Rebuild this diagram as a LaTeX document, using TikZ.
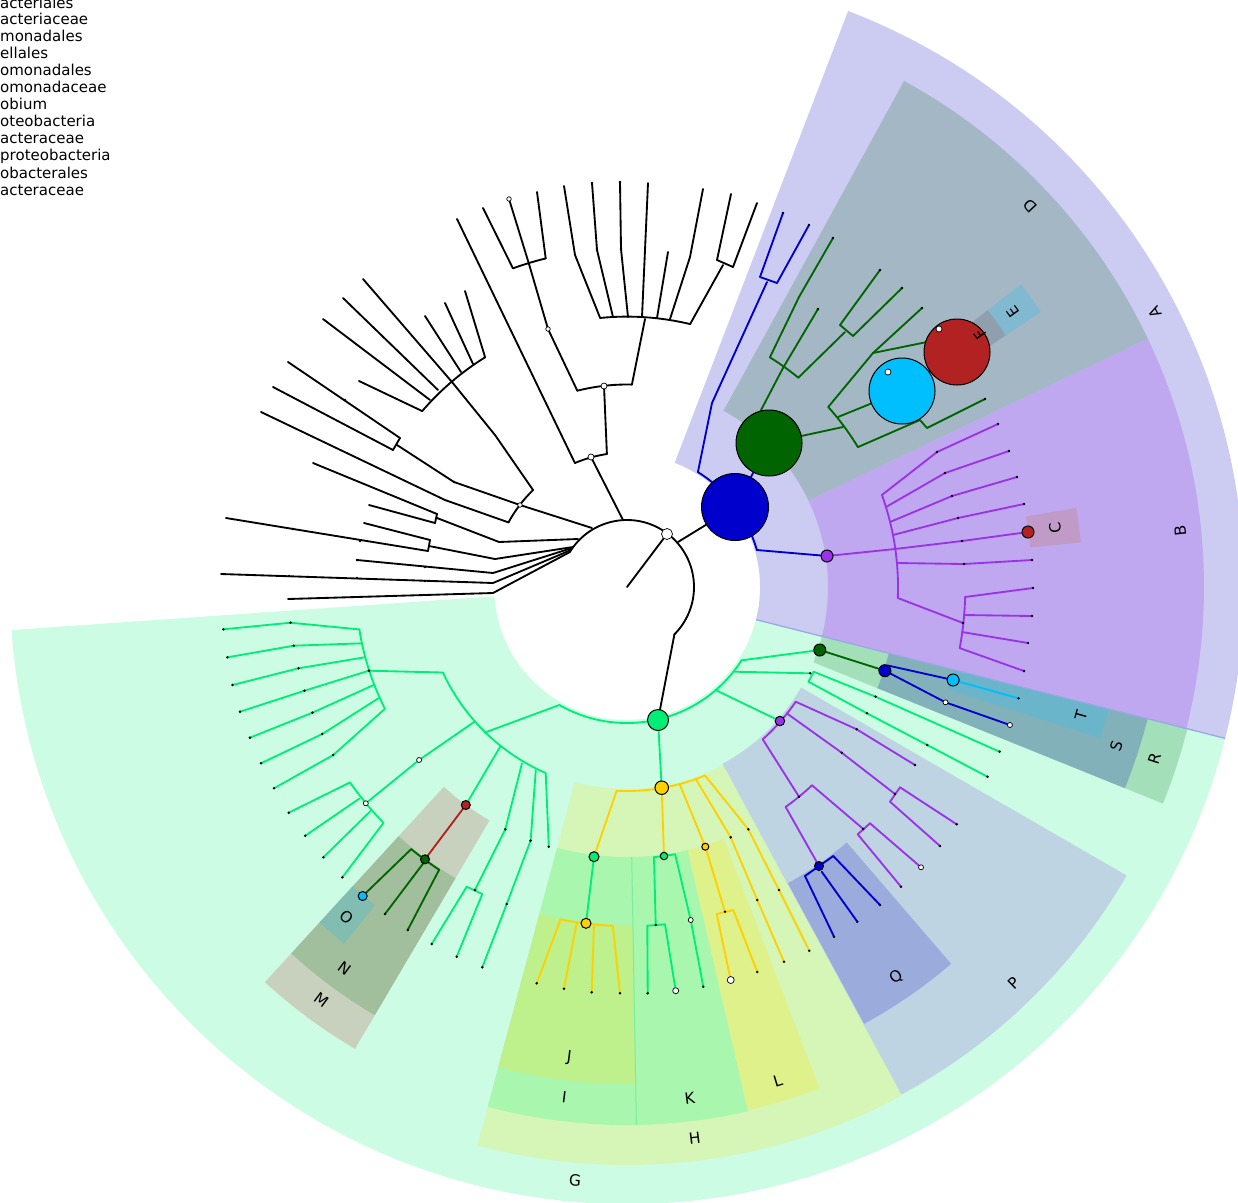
\documentclass[tikz,border=0pt]{standalone}
\usepackage{fontspec}
\setmainfont{DejaVu Sans}
\pgfdeclarelayer{sect}\pgfdeclarelayer{tree}
\pgfsetlayers{sect,tree,main}
\definecolor{cA}{HTML}{CCCCF2}\definecolor{cB}{HTML}{BFA8F0}\definecolor{cC}{HTML}{C09BC8}
\definecolor{cD}{HTML}{A3B7C5}\definecolor{cE}{HTML}{81B9D1}\definecolor{cF}{HTML}{909FAE}
\definecolor{cG}{HTML}{CCFCE4}\definecolor{cH}{HTML}{D5F6B6}\definecolor{cI}{HTML}{A9F6AE}
\definecolor{cJ}{HTML}{BEF08B}\definecolor{cK}{HTML}{A9F6AE}\definecolor{cL}{HTML}{DEF18B}
\definecolor{cM}{HTML}{C8D1BE}\definecolor{cN}{HTML}{A1BF9C}\definecolor{cO}{HTML}{81BDB1}
\definecolor{cP}{HTML}{BFD4E2}\definecolor{cQ}{HTML}{9AABDC}\definecolor{cR}{HTML}{A3E0B9}
\definecolor{cS}{HTML}{82B1BA}\definecolor{cT}{HTML}{6AB5C9}
\definecolor{AEdge}{HTML}{9AA9E4}\definecolor{IKedge}{HTML}{7EEC9E}
\definecolor{tBlue}{HTML}{0000CD}\definecolor{tDG}{HTML}{006400}\definecolor{tPur}{HTML}{9A32E8}
\definecolor{tCy}{HTML}{00BFFF}\definecolor{tRed}{HTML}{B22222}\definecolor{tSG}{HTML}{00EE76}
\definecolor{tGold}{HTML}{FFD000}
\newcommand\mysector[5]{\fill[#1] (#2:#4pt) arc[start angle=#2,end angle=#3,radius=#4pt] -- (#3:#5pt) arc[start angle=#3,end angle=#2,radius=#5pt] -- cycle;}
\tikzset{
 lnk/.style={line width=1.85pt, line cap=round, line join=round},
 kb/.style={lnk,black}, kbl/.style={lnk,tBlue}, kdg/.style={lnk,tDG}, kpu/.style={lnk,tPur},
 kcy/.style={lnk,tCy}, krd/.style={lnk,tRed}, ksg/.style={lnk,tSG}, kgd/.style={lnk,tGold},
 cn/.style={circle, draw=black, line width=1pt, inner sep=0pt, outer sep=0pt},
 wn/.style={cn, fill=white, line width=0.7pt},
 lab/.style={font=\fontsize{15.5}{15.5}\selectfont, inner sep=0pt},
 leg/.style={font=\fontsize{15}{15}\selectfont, inner sep=0pt, anchor=base west},
}
\begin{document}
\begin{tikzpicture}[x=1pt,y=-1pt]
\path[use as bounding box] (0,0) rectangle (1238,1202);

% ---------- shaded sectors ----------
\begin{pgfonlayer}{sect}
\begin{scope}[shift={(627,587)}]
\mysector{cA}{-14.2}{69}{133}{617}
\mysector{cG}{184}{345.8}{133}{617}
\mysector{cB}{-14.2}{25.5}{201}{577}
\mysector{cD}{25.5}{61.3}{201}{577}
\mysector{cH}{255}{298.4}{202}{578}
\mysector{cP}{298.4}{330}{201}{577}
\mysector{cR}{-22}{-14.2}{201}{578}
\mysector{cI}{255}{271}{270}{538}
\mysector{cK}{271}{283}{270}{538}
\mysector{cL}{283}{291}{270}{537}
\mysector{cM}{227.5}{239.5}{271}{536}
\mysector{cS}{-22}{-14.2}{270}{537}
\mysector{cJ}{255}{271}{338}{497}
\mysector{cN}{227.5}{239.5}{338}{497}
\mysector{cQ}{298.5}{310.7}{337}{497}
\mysector{cT}{-17.7}{-14.2}{337}{497}
\mysector{cO}{227.5}{231.6}{406}{455}
\mysector{cC}{5.6}{10}{405}{456}
\mysector{cF}{33.6}{37.5}{414}{455}
\mysector{cE}{33.6}{37.5}{455}{497}
\draw[line width=1.3pt, AEdge] (-14.2:133pt) -- (-14.2:617pt);
\draw[line width=1pt, IKedge] (271:270pt) -- (271:538pt);
\end{scope}
\end{pgfonlayer}

% ---------- coordinates ----------
\coordinate (root) at (627,587);
\path (578,539) coordinate (ka1) (573,547) coordinate (ka2) (572,548) coordinate (ka3)
 (571,550) coordinate (ka4) (570,552) coordinate (ka5) (592,528) coordinate (ka6)
 (623,520) coordinate (ka7) (678,542) coordinate (ka8) (674.4,634.4) coordinate (kaE);
% black
\path (499,542) coordinate (p1) (437,518) coordinate (q1) (437,514) coordinate (q1a) (435,523) coordinate (q1b)
 (313,463) coordinate (l1a) (369,505) coordinate (l1b)
 (495,559) coordinate (p2) (429,546) coordinate (q2) (430,540) coordinate (q2a) (428,551) coordinate (q2b)
 (364,523) coordinate (l2a) (226,518) coordinate (l2b)
 (493,573) coordinate (p3) (357,560) coordinate (l3)
 (493,583) coordinate (p4) (221,574) coordinate (l4)
 (493,593) coordinate (p5) (288,599) coordinate (l5)
 (508.5,522.4) coordinate (p6a) (533.1,490.1) coordinate (p6b)
 (445,500) coordinate (m1) (261,412) coordinate (l6a)
 (454,482) coordinate (m2) (397,445) coordinate (q3) (393,450) coordinate (q3a) (400,438) coordinate (q3b)
 (288,362) coordinate (l6b) (273,387) coordinate (l6c)
 (495,435) coordinate (m3) (452,382) coordinate (c10) (363,279) coordinate (l6d)
 (422,411) coordinate (c10a) (430,400) coordinate (c10b) (438,390) coordinate (c10c)
 (461,372) coordinate (c10d) (473,364) coordinate (c10e) (485,357) coordinate (c10f)
 (359,381) coordinate (l10a) (323,319) coordinate (l10b) (343,298) coordinate (l10c)
 (425,316) coordinate (l10d) (445,303) coordinate (l10e) (465,291) coordinate (l10f)
 (574.9,463) coordinate (w2a) (606.9,454) coordinate (w2b) (457,219) coordinate (l7)
 (577.3,390.7) coordinate (w1a) (631.9,384.6) coordinate (w1b)
 (529,264) coordinate (c11) (512.9,268.3) coordinate (c11a) (545.7,258.4) coordinate (c11b)
 (483,208) coordinate (l11a) (537,192) coordinate (l11c)
 (645,319) coordinate (c12) (600.1,317.9) coordinate (c12a) (613,317) coordinate (c12b) (628,317) coordinate (c12c)
 (642,317) coordinate (c12d) (657,318) coordinate (c12e) (670,319) coordinate (c12f) (690.1,324.1) coordinate (c12g)
 (575,255) coordinate (m12a) (564,186) coordinate (l12a) (597,250) coordinate (m12b) (592,183) coordinate (l12b)
 (621,249) coordinate (m12c) (620,182) coordinate (l12c) (648,183) coordinate (l12d) (668,252) coordinate (l12e)
 (690,257) coordinate (m12f) (703,189) coordinate (l12f)
 (723,265) coordinate (c13) (717,260) coordinate (c13a) (733,267) coordinate (c13b) (731,194) coordinate (l13a) (757,203) coordinate (l13b);
% blue / dark green
\path (697.9,472.1) coordinate (ba1) (756.8,550) coordinate (ba2) (712,403) coordinate (bm)
 (767,282) coordinate (c20) (760,277) coordinate (c20a) (777,283) coordinate (c20b) (783,213) coordinate (l20a) (809,225) coordinate (l20b)
 (783,368) coordinate (c30) (769.9,357.3) coordinate (c30a) (798.3,377.7) coordinate (c30b)
 (799,297) coordinate (m30) (833,238) coordinate (l30a) (818,309) coordinate (l30b)
 (845,332) coordinate (c31) (840,325) coordinate (c31a) (853,336) coordinate (c31b) (880,270) coordinate (l31a) (902,288) coordinate (l31b)
 (843,427) coordinate (c32) (828.2,407) coordinate (c32a) (838,417) coordinate (c32m) (857.9,447.1) coordinate (c32b)
 (873,353) coordinate (c33) (922,308) coordinate (l33) (927,342) coordinate (m33)
 (920,420) coordinate (c34a) (927,428) coordinate (c34b) (985,399) coordinate (l34);
% purple B
\path (895,549) coordinate (pa5) (881.9,495) coordinate (pa1) (886,507) coordinate (pa2) (890,522) coordinate (pa3)
 (893,535) coordinate (pa4) (897,563) coordinate (pa6) (897.8,598) coordinate (pa7)
 (937,452) coordinate (pm1) (945,473) coordinate (pm2) (952,496) coordinate (pm3) (958,518) coordinate (pm4)
 (962,541) coordinate (pm5) (964,564) coordinate (pm6)
 (998,424) coordinate (pl1) (1009,451) coordinate (pl2) (1017,477) coordinate (pl3) (1024,504) coordinate (pl4) (1032,560) coordinate (pl6)
 (963,623) coordinate (c40) (965.1,597) coordinate (c40a) (964,615) coordinate (c40b) (962,632) coordinate (c40c) (959.7,648.1) coordinate (c40d)
 (1033,588) coordinate (l40a) (1032,616) coordinate (l40b) (1028,643) coordinate (l40c) (1024,671) coordinate (l40d);
% spring green G
\path (559.4,705) coordinate (ga1) (715.5,690) coordinate (ga2) (734.4,671.7) coordinate (ga3) (741.6,660.3) coordinate (ga4)
 (442.9,672.5) coordinate (ca1) (474.5,721.7) coordinate (ca2) (484.4,732.7) coordinate (cax) (500.2,746.7) coordinate (ca3)
 (522,763.3) coordinate (ca4) (535.8,770) coordinate (ca5) (545.7,773) coordinate (ca6)
 (368.9,670.7) coordinate (c51)
 (359.3,629.4) coordinate (c51a) (361.8,643.3) coordinate (c51b) (364.6,657.3) coordinate (c51c) (373.7,685) coordinate (c51e)
 (378.4,698.3) coordinate (c51f) (384.9,708.8) coordinate (c51g)
 (290.6,622.7) coordinate (m51a) (293.8,645.7) coordinate (m51b) (298.5,668.3) coordinate (m51c) (304.5,690.7) coordinate (m51d)
 (312.4,712.7) coordinate (m51e) (322.3,734) coordinate (m51f) (333.3,755) coordinate (m51g)
 (223.4,629.3) coordinate (l51a) (227.4,657.3) coordinate (l51b) (232.5,685) coordinate (l51c) (240,711.7) coordinate (l51d)
 (249.9,737.7) coordinate (l51e) (261,763.3) coordinate (l51f) (274,788.3) coordinate (l51g)
 (350,782.4) coordinate (c52a) (359.8,798.3) coordinate (c52b) (370.9,810.7) coordinate (c52c) (383.5,822.9) coordinate (c52d)
 (288.7,812.7) coordinate (l52a) (305.3,835.7) coordinate (l52b) (323.4,857.3) coordinate (l52c) (342.4,877.3) coordinate (l52d)
 (411.2,849.1) coordinate (dg2a) (423.3,863.3) coordinate (dg2b) (439.1,869.8) coordinate (dg2c) (385,914) coordinate (ldg2b) (407.7,930) coordinate (ldg2c)
 (505.3,829.3) coordinate (m53) (475,890) coordinate (c53) (466.7,886.7) coordinate (c53a) (482.3,894) coordinate (c53b)
 (431.7,944) coordinate (l53a) (456.7,956.7) coordinate (l53b)
 (530.6,840.7) coordinate (m54a) (506.7,904) coordinate (m54b) (482.3,967.3) coordinate (l54) (548.8,846.7) coordinate (l55)
 (810.2,673.3) coordinate (c50) (813.6,671.7) coordinate (c50a) (808.5,681.7) coordinate (c50b)
 (875.6,696.7) coordinate (m50a) (999.6,751.7) coordinate (l50a) (867,713.3) coordinate (m50b) (927.3,745) coordinate (m50c) (987.5,776.7) coordinate (l50b);
% gold / H
\path (616.7,790.7) coordinate (gda) (680,785) coordinate (gdc) (696,779.3) coordinate (gdd) (705.1,775.5) coordinate (gde)
 (730.7,837.3) coordinate (md1) (757.3,900) coordinate (md2) (784,961.7) coordinate (ld)
 (748.3,829.3) coordinate (me1) (779,890) coordinate (me2) (809.3,950.7) coordinate (le)
 (560.6,919.4) coordinate (gd1a) (576.7,922.7) coordinate (gd1b) (594,924) coordinate (gd1c) (612.8,925.7) coordinate (gd1d)
 (536.7,983.3) coordinate (lg1a) (564,988.7) coordinate (lg1b) (591.7,992.3) coordinate (lg1c) (620,993.3) coordinate (lg1d)
 (654,857.2) coordinate (gn2a) (675.1,854.2) coordinate (gn2b)
 (655.7,925) coordinate (c60) (647.3,925.7) coordinate (c60a) (665,924.3) coordinate (c60b) (647.7,993.3) coordinate (l60a) (703.3,986.7) coordinate (l61)
 (725,911.7) coordinate (c61) (716.7,914) coordinate (c61a) (733.3,910) coordinate (c61b) (757.3,972) coordinate (l61b);
% purple P
\path (795.7,701.7) coordinate (pua) (786.7,713.3) coordinate (pub) (762.7,739.3) coordinate (puc)
 (856.7,729.3) coordinate (mpa) (915,765) coordinate (lpa) (841.7,752.7) coordinate (mpb)
 (895,794) coordinate (c70) (890,801.7) coordinate (c70a) (900,787.3) coordinate (c70b) (956.7,824.3) coordinate (l70b) (940,846) coordinate (l70a)
 (799,796.7) coordinate (c71) (785.6,806.9) coordinate (c71a) (812,785.3) coordinate (c71b)
 (863.3,829) coordinate (c72) (857.7,834.3) coordinate (c72a) (870,823.3) coordinate (c72b) (901,886.7) coordinate (l72a)
 (805,876) coordinate (bl2a) (821.7,871.7) coordinate (bl2m) (833.3,856) coordinate (bl2b)
 (834,936.7) coordinate (lb2a) (857.3,921.7) coordinate (lb2m) (880,905) coordinate (lb2b)
 (1018.5,698.3) coordinate (lcy1);

% ---------- circle nodes ----------
\node[wn, minimum size=11pt] (W0) at (667,534) {};
\node[cn, fill=tBlue, minimum size=67pt] (B0) at (735,507) {};
\node[cn, fill=tDG, minimum size=66pt] (G0) at (769,443) {};
\node[cn, fill=tCy, minimum size=66pt] (C1) at (902,391) {};
\node[cn, fill=tRed, minimum size=66pt] (R1) at (957,352) {};
\node[wn, minimum size=6pt] (wc1) at (888,372) {};
\node[wn, minimum size=6pt] (wr1) at (939,329) {};
\node[cn, fill=tPur, minimum size=12pt] (P0) at (827,556) {};
\node[cn, fill=tRed, minimum size=12pt] (R2) at (1028,532) {};
\node[cn, fill=tSG, minimum size=21pt] (GN0) at (658,720) {};
\node[cn, fill=tGold, minimum size=13.5pt] (GD0) at (661.7,787.7) {};
\node[cn, fill=tSG, minimum size=10pt] (GN1) at (594,856.7) {};
\node[cn, fill=tSG, minimum size=7.5pt] (GN2) at (664,856) {};
\node[cn, fill=tGold, minimum size=7pt] (GD2) at (705.3,846.7) {};
\node[cn, fill=tGold, minimum size=10pt] (GD1) at (586,923.3) {};
\node[cn, fill=tPur, minimum size=9.5pt] (PU2) at (779.9,721) {};
\node[cn, fill=tBlue, minimum size=9pt] (BL2) at (819,866) {};
\node[cn, fill=tDG, minimum size=12pt] (DG1) at (819.8,650) {};
\node[cn, fill=tBlue, minimum size=12pt] (BL1) at (884.9,670.7) {};
\node[cn, fill=tCy, minimum size=12pt] (CY1) at (953.1,680) {};
\node[cn, fill=tRed, minimum size=9pt] (R3) at (465.8,805) {};
\node[cn, fill=tDG, minimum size=9pt] (DG2) at (425,859.3) {};
\node[cn, fill=tCy, minimum size=9pt] (CY2) at (362.7,896) {};
\node[wn, minimum size=6pt] (W1) at (604,386) {};
\node[wn, minimum size=6pt] (W2) at (591,457) {};
\node[wn, minimum size=4.5pt] (p6) at (520,505) {};
\node[wn, minimum size=4.5pt] (wd1) at (548,329) {};
\node[wn, minimum size=4.5pt] (w11) at (509,199) {};
\node[wn, minimum size=5pt] (c52) at (365.8,803.3) {};
\node[wn, minimum size=5pt] (wd2) at (419.1,760) {};
\node[wn, minimum size=5pt] (wd3) at (945.5,702.3) {};
\node[wn, minimum size=5pt] (wd4) at (1009.9,725) {};
\node[wn, minimum size=5pt] (wd5) at (921,867.3) {};
\node[wn, minimum size=5pt] (wd6) at (690.7,920) {};
\node[wn, minimum size=6pt] (wd7) at (675.7,990.7) {};
\node[wn, minimum size=7pt] (wd8) at (730.7,980) {};

% ---------- tree ----------
\begin{pgfonlayer}{tree}
\begin{scope}[shift={(627,587)}]
\draw[kb] (148.4:67pt) arc[start angle=148.4,end angle=-45,radius=67pt];
\draw[kb] (151.4:135pt) arc[start angle=151.4,end angle=134.1,radius=135pt];
\draw[kb] (139.4:270pt) arc[start angle=139.4,end angle=121.7,radius=270pt];
\draw[kb] (112.8:134.5pt) arc[start angle=112.8,end angle=98.6,radius=134.5pt];
\draw[kb] (104.2:202.5pt) arc[start angle=104.2,end angle=88.6,radius=202.5pt];
\draw[kb] (109.7:338.5pt) arc[start angle=109.7,end angle=103.9,radius=338.5pt];
\draw[kb] (95.7:270.4pt) arc[start angle=95.7,end angle=76.5,radius=270.4pt];
\draw[kbl] (58.3:135pt) arc[start angle=58.3,end angle=15.9,radius=135pt];
\draw[kdg] (58.1:270.5pt) arc[start angle=58.1,end angle=50.7,radius=270.5pt];
\draw[kdg] (41.8:270pt) arc[start angle=41.8,end angle=31.2,radius=270pt];
\draw[kpu] (19.84:271pt) arc[start angle=19.84,end angle=-2.33,radius=271pt];
\draw[kpu] (-1.7:338.3pt) arc[start angle=-1.7,end angle=-10.4,radius=338.3pt];
\draw[ksg] (240.2:136pt) arc[start angle=240.2,end angle=327.4,radius=136pt];
\draw[ksg] (204.9:203pt) arc[start angle=204.9,end angle=246.4,radius=203pt];
\draw[ksg] (189:271pt) arc[start angle=189,end angle=206.7,radius=271pt];
\draw[ksg] (215.2:339pt) arc[start angle=215.2,end angle=224.1,radius=339pt];
\draw[kdg] (230.6:339.5pt) arc[start angle=230.6,end angle=236.4,radius=339.5pt];
\draw[kgd] (267.1:204pt) arc[start angle=267.1,end angle=292.5,radius=204pt];
\draw[kgd] (258.7:339pt) arc[start angle=258.7,end angle=267.6,radius=339pt];
\draw[ksg] (275.7:271.5pt) arc[start angle=275.7,end angle=280.2,radius=271.5pt];
\draw[kpu] (-48.3:204pt) arc[start angle=-48.3,end angle=-34.2,radius=204pt];
\draw[kpu] (-54.2:271.2pt) arc[start angle=-54.2,end angle=-47,radius=271.2pt];
\end{scope}
% black
\draw[kb] (root) -- (W0);
\draw[kb] (ka1) -- (p1) -- (q1); \draw[kb] (q1a) -- (q1b); \draw[kb] (q1a) -- (l1a); \draw[kb] (q1b) -- (l1b);
\draw[kb] (ka2) -- (p2) -- (q2); \draw[kb] (q2a) -- (q2b); \draw[kb] (q2a) -- (l2a); \draw[kb] (q2b) -- (l2b);
\draw[kb] (ka3) -- (p3) -- (l3);
\draw[kb] (ka4) -- (p4) -- (l4);
\draw[kb] (ka5) -- (p5) -- (l5);
\draw[kb] (ka6) -- (p6);
\draw[kb] (p6a) -- (m1) -- (l6a);
\draw[kb] (p6) -- (m2) -- (q3); \draw[kb] (q3a) -- (q3b); \draw[kb] (q3b) -- (l6b); \draw[kb] (q3a) -- (l6c);
\draw[kb] (p6b) -- (m3) -- (c10) -- (l6d);
\draw[kb] (c10a) -- (l10a); \draw[kb] (c10b) -- (l10b); \draw[kb] (c10c) -- (l10c);
\draw[kb] (c10d) -- (l10d); \draw[kb] (c10e) -- (l10e); \draw[kb] (c10f) -- (l10f);
\draw[kb] (ka7) -- (W2);
\draw[kb] (w2a) -- (l7); \draw[kb] (w2b) -- (W1);
\draw[kb] (w1a) -- (wd1) -- (c11);
\draw[kb] (c11a) -- (l11a); \draw[kb] (c11) -- (w11); \draw[kb] (c11b) -- (l11c);
\draw[kb] (w1b) -- (c12);
\draw[kb] (c12a) -- (m12a) -- (l12a); \draw[kb] (c12b) -- (m12b) -- (l12b); \draw[kb] (c12c) -- (m12c) -- (l12c);
\draw[kb] (c12d) -- (l12d); \draw[kb] (c12e) -- (l12e); \draw[kb] (c12f) -- (m12f) -- (l12f);
\draw[kb] (c12g) -- (c13); \draw[kb] (c13a) -- (c13b); \draw[kb] (c13a) -- (l13a); \draw[kb] (c13b) -- (l13b);
% blue
\draw[kb] (ka8) -- (B0);
\draw[kbl] (ba1) -- (bm) -- (c20); \draw[kbl] (c20a) -- (c20b); \draw[kbl] (c20a) -- (l20a); \draw[kbl] (c20b) -- (l20b);
\draw[kbl] (ba2) -- (P0);
\draw[kbl] (B0) -- (G0);
% dark green
\draw[kdg] (G0.105) -- (c30);
\draw[kdg] (c30a) -- (m30) -- (l30a); \draw[kdg] (c30) -- (l30b); \draw[kdg] (c30b) -- (c31);
\draw[kdg] (c31a) -- (c31b); \draw[kdg] (c31a) -- (l31a); \draw[kdg] (c31b) -- (l31b);
\draw[kdg] (G0) -- (c32);
\draw[kdg] (c32a) -- (c33) -- (l33); \draw[kdg] (c33) -- (m33) -- (R1);
\draw[kdg] (c32m) -- (C1); \draw[kdg] (C1) -- (R1);
\draw[kdg] (c32b) -- (c34a) -- (c34b) -- (l34);
% purple B
\draw[kpu] (P0) -- (pa5);
\draw[kpu] (pa1) -- (pm1) -- (pl1); \draw[kpu] (pa2) -- (pm2) -- (pl2); \draw[kpu] (pa3) -- (pm3) -- (pl3);
\draw[kpu] (pa4) -- (pm4) -- (pl4); \draw[kpu] (pa5) -- (pm5) -- (R2); \draw[kpu] (pa6) -- (pm6) -- (pl6);
\draw[kpu] (pa7) -- (c40);
\draw[kpu] (c40a) -- (l40a); \draw[kpu] (c40b) -- (l40b); \draw[kpu] (c40c) -- (l40c); \draw[kpu] (c40d) -- (l40d);
% spring green
\draw[kb] (kaE) -- (GN0);
\draw[ksg] (ga1) -- (cax);
\draw[ksg] (GN0) -- (GD0);
\draw[ksg] (ga2) -- (PU2);
\draw[ksg] (ga3) -- (c50);
\draw[ksg] (ga4) -- (DG1);
\draw[ksg] (ca1) -- (c51);
\draw[ksg] (c51a) -- (m51a) -- (l51a); \draw[ksg] (c51b) -- (m51b) -- (l51b); \draw[ksg] (c51c) -- (m51c) -- (l51c);
\draw[ksg] (c51) -- (m51d) -- (l51d); \draw[ksg] (c51e) -- (m51e) -- (l51e); \draw[ksg] (c51f) -- (m51f) -- (l51f);
\draw[ksg] (c51g) -- (m51g) -- (l51g);
\draw[ksg] (ca2) -- (wd2) -- (c52);
\draw[ksg] (c52a) -- (l52a); \draw[ksg] (c52b) -- (l52b); \draw[ksg] (c52c) -- (l52c); \draw[ksg] (c52d) -- (l52d);
\draw[ksg] (ca3) -- (R3);
\draw[krd] (R3) -- (DG2);
\draw[kdg] (dg2a) -- (CY2); \draw[kdg] (dg2b) -- (ldg2b); \draw[kdg] (dg2c) -- (ldg2c);
\draw[ksg] (ca4) -- (m53) -- (c53); \draw[ksg] (c53a) -- (c53b); \draw[ksg] (c53a) -- (l53a); \draw[ksg] (c53b) -- (l53b);
\draw[ksg] (ca5) -- (m54a) -- (m54b) -- (l54);
\draw[ksg] (ca6) -- (l55);
\draw[ksg] (c50a) -- (c50b); \draw[ksg] (c50a) -- (m50a) -- (l50a); \draw[ksg] (c50b) -- (m50b) -- (m50c) -- (l50b);
\draw[kdg] (DG1) -- (BL1);
\draw[kbl] (BL1.60) -- (CY1); \draw[kcy] (CY1) -- (lcy1);
\draw[kbl] (BL1) -- (wd3) -- (wd4);
% gold
\draw[kgd] (gda) -- (GN1); \draw[kgd] (GD0) -- (GN2); \draw[kgd] (gdc) -- (GD2);
\draw[kgd] (gdd) -- (md1) -- (md2) -- (ld);
\draw[kgd] (gde) -- (me1) -- (me2) -- (le);
\draw[ksg] (GN1) -- (GD1);
\draw[kgd] (gd1a) -- (lg1a); \draw[kgd] (gd1b) -- (lg1b); \draw[kgd] (gd1c) -- (lg1c); \draw[kgd] (gd1d) -- (lg1d);
\draw[ksg] (gn2a) -- (c60); \draw[ksg] (c60a) -- (c60b); \draw[ksg] (c60a) -- (l60a); \draw[ksg] (c60b) -- (wd7);
\draw[ksg] (gn2b) -- (wd6) -- (l61);
\draw[kgd] (GD2) -- (c61); \draw[kgd] (c61a) -- (c61b); \draw[kgd] (c61a) -- (wd8); \draw[kgd] (c61b) -- (l61b);
% purple P
\draw[kpu] (pua) -- (mpa) -- (lpa);
\draw[kpu] (pub) -- (mpb) -- (c70); \draw[kpu] (c70a) -- (c70b); \draw[kpu] (c70b) -- (l70b); \draw[kpu] (c70a) -- (l70a);
\draw[kpu] (puc) -- (c71);
\draw[kpu] (c71b) -- (c72); \draw[kpu] (c72a) -- (c72b); \draw[kpu] (c72b) -- (wd5); \draw[kpu] (c72a) -- (l72a);
\draw[kpu] (c71a) -- (BL2);
\draw[kbl] (bl2a) -- (bl2b); \draw[kbl] (bl2a) -- (lb2a); \draw[kbl] (bl2m) -- (lb2m); \draw[kbl] (bl2b) -- (lb2b);
\end{pgfonlayer}

% small dots
\foreach \x/\y in {293/529,360/541,425/567,289/576,357/578,425/581,357/560,454/482,345/400,597/250,592/183,621/249,620/182,
 998/424,1009/451,1017/477,1024/504,1032/560,1033/588,1032/616,1028/643,1024/671,937/452,945/473,952/496,958/518,962/541,964/564,963/623,
 223.4/629.3,227.4/657.3,232.5/685,240/711.7,249.9/737.7,261/763.3,274/788.3,290.6/622.7,293.8/645.7,298.5/668.3,304.5/690.7,
 312.4/712.7,322.3/734,333.3/755,368.9/670.7,288.7/812.7,305.3/835.7,323.4/857.3,342.4/877.3,505.3/829.3,475/890,431.7/944,
 456.7/956.7,530.6/840.7,506.7/904,482.3/967.3,548.8/846.7,385/914,407.7/930,
 536.7/983.3,564/988.7,591.7/992.3,620/993.3,730.7/837.3,757.3/900,784/961.7,748.3/829.3,779/890,809.3/950.7,757.3/972,725/911.7,
 655.7/925,647.7/993.3,703.3/986.7,856.7/729.3,915/765,841.7/752.7,895/794,956.7/824.3,940/846,799/796.7,863.3/829,901/886.7,
 880/905,857.3/921.7,834/936.7,875.6/696.7,999.6/751.7,867/713.3,927.3/745,987.5/776.7,810.2/673.3,1018.5/698.3,
 783/213,809/225,833/238,818/309,880/270,902/288,922/308,985/399}
 {\fill[black] (\x,\y) circle[radius=1.4pt];}

% ---------- labels ----------
\begin{scope}[shift={(627,587)}]
\node[lab, rotate=117.5] (lA) at (27.5:595pt) {A};
\node[lab, rotate=95.8] (lB) at (5.8:556pt) {B};
\node[lab, rotate=97.8] (lC) at (7.8:432pt) {C};
\node[lab, rotate=133.4] (lD) at (43.4:555pt) {D};
\node[lab, rotate=125.5] (lE) at (35.5:474pt) {E};
\node[lab, rotate=125.6] (lF) at (35.6:435pt) {F};
\node[lab, rotate=355] (lG) at (265:596pt) {G};
\node[lab, rotate=7] (lH) at (277:555pt) {H};
\node[lab, rotate=353] (lI) at (263:514pt) {I};
\node[lab, rotate=353] (lJ) at (263:474pt) {J};
\node[lab, rotate=7] (lK) at (277:515pt) {K};
\node[lab, rotate=17] (lL) at (287:516pt) {L};
\node[lab, rotate=323.5] (lM) at (233.5:514pt) {M};
\node[lab, rotate=323.5] (lN) at (233.5:475pt) {N};
\node[lab, rotate=319.6] (lO) at (229.6:433pt) {O};
\node[lab, rotate=44.3] (lP) at (314.3:554pt) {P};
\node[lab, rotate=34.6] (lQ) at (304.6:474pt) {Q};
\node[lab, rotate=72] (lR) at (-18:555pt) {R};
\node[lab, rotate=72] (lS) at (-18:515pt) {S};
\node[lab, rotate=74.2] (lT) at (-15.8:472pt) {T};
\end{scope}

% ---------- legend (cut at the left edge, as in the source) ----------
\node[leg] (g0) at (0,8.5) {acteriales};
\node[leg] (g1) at (0,24.5) {acteriaceae};
\node[leg] (g2) at (0,41.6) {monadales};
\node[leg] (g3) at (0,58.6) {ellales};
\node[leg] (g4) at (0,75.7) {omonadales};
\node[leg] (g5) at (0,92.7) {omonadaceae};
\node[leg] (g6) at (0,109.8) {obium};
\node[leg] (g7) at (0,126.8) {oteobacteria};
\node[leg] (g8) at (0,143.9) {acteraceae};
\node[leg] (g9) at (0,160.9) {proteobacteria};
\node[leg] (g10) at (0,178) {obacterales};
\node[leg] (g11) at (0,195) {acteraceae};
\end{tikzpicture}
\end{document}
